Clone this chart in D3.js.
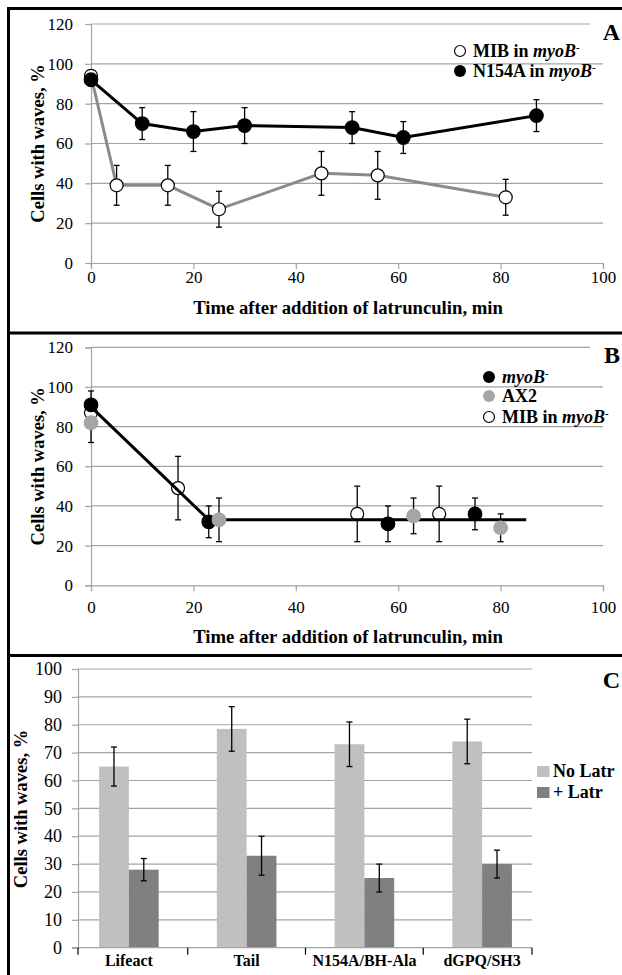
<!DOCTYPE html>
<html>
<head>
<meta charset="utf-8">
<script src="https://cdn.jsdelivr.net/npm/d3@7"></script>
<style>
  body { margin: 0; background: #fff; }
</style>
</head>
<body>
<div id="chart"></div>
<script>
// panel A: latrunculin time course, two strains
var timeA_MIB = [0, 5, 15, 25, 45, 56, 81];
var valA_MIB = [94, 39, 39, 27, 45, 44, 33];
var errA_MIB = [2, 10, 10, 9, 11, 12, 9];
var timeA_N154A = [0, 10, 20, 30, 51, 61, 87];
var valA_N154A = [92, 70, 66, 69, 68, 63, 74];
var errA_N154A = [2, 8, 10, 9, 8, 8, 8];

// panel B
var timeB_myoB = [0, 23, 58, 75];
var valB_myoB = [91, 32, 31, 36];
var errB_myoB = [7, 8, 9, 8];
var timeB_AX2 = [0, 25, 63, 80];
var valB_AX2 = [82, 33, 35, 29];
var errB_AX2 = [10, 11, 9, 7];
var timeB_MIB = [0, 17, 52, 68];
var valB_MIB = [87, 49, 36, 36];
var errB_MIB = [5, 16, 14, 14];
var fitB_time = [0, 23, 85];
var fitB_val = [90, 33, 33];

// panel C
var categoriesC = ["Lifeact", "Tail", "N154A/BH-Ala", "dGPQ/SH3"];
var seriesC = ["No Latr", "+ Latr"];
var noLatr = [65, 78.5, 73, 74];
var noLatrErr = [7, 8, 8, 8];
var plusLatr = [28, 33, 25, 30];
var plusLatrErr = [4, 7, 5, 5];

var ticksTime = [0, 20, 40, 60, 80, 100];
var ticksAB = [0, 20, 40, 60, 80, 100, 120];
var ticksC = [0, 10, 20, 30, 40, 50, 60, 70, 80, 90, 100];

var W = 622, H = 975;
var gridCol = "#a3a3a3";
var FONT = "'Liberation Serif'";

var svg = d3.select("#chart").append("svg").attr("width", W).attr("height", H);

function txt(g, x, y, size, bold) {
  return g.append("text").attr("x", x).attr("y", y)
    .style("font-family", FONT).attr("font-size", size)
    .attr("font-weight", bold ? "bold" : "normal").attr("fill", "#000");
}

function zip(t, v, e) {
  return t.map(function(d, i) { return {t: d, v: v[i], e: e ? e[i] : 0}; });
}

// draws grid, axes and titles for a time panel
function timePanel(top, bottom, label, labelPad, titleY) {
  var g = svg.append("g");
  var x = d3.scaleLinear().domain([0, 100]).range([91, 603]);
  var y = d3.scaleLinear().domain([0, 120]).range([bottom, top]);

  g.selectAll("line.grid").data(ticksAB.slice(1)).enter().append("line")
    .attr("x1", 91).attr("x2", function(d) { return d == 120 ? 590 : 603; })
    .attr("y1", function(d) { return y(d); }).attr("y2", function(d) { return y(d); })
    .attr("stroke", gridCol).attr("stroke-width", 1.2);

  var yAxis = d3.axisLeft(y).tickValues(ticksAB).tickSize(6).tickPadding(12);
  var xAxis = d3.axisBottom(x).tickValues(ticksTime).tickSize(6).tickPadding(labelPad);
  var ya = g.append("g").attr("transform", "translate(91,0)").call(yAxis);
  var xa = g.append("g").attr("transform", "translate(0," + bottom + ")").call(xAxis);
  [ya, xa].forEach(function(a) {
    a.attr("font-family", null).attr("font-size", null);
    a.selectAll("path, line").attr("stroke", gridCol).attr("stroke-width", 1.2);
    a.selectAll("text").style("font-family", FONT).attr("font-size", 17).attr("fill", "#000");
  });

  txt(g, 348, titleY, 18.7, true).attr("text-anchor", "middle")
    .text("Time after addition of latrunculin, min");
  txt(g, 0, 0, 18.5, true)
    .attr("transform", "translate(44," + ((top + bottom) / 2) + ") rotate(-90)")
    .attr("text-anchor", "middle").text("Cells with waves, %");
  txt(g, 620, top + 16, 24, true).attr("text-anchor", "end").text(label);
  return {g: g, x: x, y: y};
}

function errorBars(p, data) {
  var eb = p.g.append("g").selectAll("g").data(data.filter(function(d) { return d.e > 0; }))
    .enter().append("g").attr("stroke", "#000").attr("stroke-width", 1.3);
  eb.append("line")
    .attr("x1", function(d) { return p.x(d.t); }).attr("x2", function(d) { return p.x(d.t); })
    .attr("y1", function(d) { return p.y(d.v - d.e); }).attr("y2", function(d) { return p.y(d.v + d.e); });
  [-1, 1].forEach(function(s) {
    eb.append("line")
      .attr("x1", function(d) { return p.x(d.t) - 3; }).attr("x2", function(d) { return p.x(d.t) + 3; })
      .attr("y1", function(d) { return p.y(d.v + s * d.e); }).attr("y2", function(d) { return p.y(d.v + s * d.e); });
  });
}

function series(p, data, fill, stroke, r) {
  p.g.append("g").selectAll("circle").data(data).enter().append("circle")
    .attr("cx", function(d) { return p.x(d.t); })
    .attr("cy", function(d) { return p.y(d.v); })
    .attr("r", r).attr("fill", fill).attr("stroke", stroke).attr("stroke-width", 1.2);
}

function lineOf(p, data, col) {
  var ln = d3.line().x(function(d) { return p.x(d.t); }).y(function(d) { return p.y(d.v); });
  p.g.append("path").datum(data).attr("d", ln).attr("fill", "none")
    .attr("stroke", col).attr("stroke-width", 3);
}

function legendText(g, x, y, parts) {
  var t = txt(g, x, y, 18, true);
  parts.forEach(function(pt) {
    var s = t.append("tspan").text(pt.s);
    if (pt.i) s.attr("font-style", "italic");
    if (pt.sup) s.attr("font-size", 11).attr("baseline-shift", "super");
  });
}

// ---- panel A
var pA = timePanel(24, 263, "A", 2, 314);
var dMIB = zip(timeA_MIB, valA_MIB, errA_MIB);
var dN = zip(timeA_N154A, valA_N154A, errA_N154A);
errorBars(pA, dMIB);
errorBars(pA, dN);
lineOf(pA, dMIB, "#8a8a8a");
lineOf(pA, dN, "#000");
series(pA, dMIB, "#fff", "#000", 6.5);
series(pA, dN, "#000", "#000", 6.8);

pA.g.append("circle").attr("cx", 460).attr("cy", 51).attr("r", 5.5).attr("fill", "#fff").attr("stroke", "#000").attr("stroke-width", 1.2);
legendText(pA.g, 473, 57, [{s: "MIB in "}, {s: "myoB", i: 1}, {s: "-", sup: 1}]);
pA.g.append("circle").attr("cx", 460).attr("cy", 71).attr("r", 6).attr("fill", "#000");
legendText(pA.g, 473, 77, [{s: "N154A in "}, {s: "myoB", i: 1}, {s: "-", sup: 1}]);

// ---- panel B
var pB = timePanel(347.3, 585.3, "B", 10, 643);
var dBm = zip(timeB_myoB, valB_myoB, errB_myoB);
var dBa = zip(timeB_AX2, valB_AX2, errB_AX2);
var dBo = zip(timeB_MIB, valB_MIB, errB_MIB);
errorBars(pB, dBo);
errorBars(pB, dBm);
errorBars(pB, dBa);
series(pB, dBo, "#fff", "#000", 6.5);
lineOf(pB, zip(fitB_time, fitB_val), "#000");
series(pB, dBm, "#000", "#000", 6.8);
series(pB, dBa, "#a6a6a6", "#a6a6a6", 6.8);

pB.g.append("circle").attr("cx", 489).attr("cy", 377).attr("r", 6).attr("fill", "#000");
legendText(pB.g, 502, 383, [{s: "myoB", i: 1}, {s: "-", sup: 1}]);
pB.g.append("circle").attr("cx", 489).attr("cy", 396).attr("r", 6).attr("fill", "#a6a6a6");
legendText(pB.g, 502, 402, [{s: "AX2"}]);
pB.g.append("circle").attr("cx", 489).attr("cy", 417).attr("r", 5.5).attr("fill", "#fff").attr("stroke", "#000").attr("stroke-width", 1.2);
legendText(pB.g, 502, 423, [{s: "MIB in "}, {s: "myoB", i: 1}, {s: "-", sup: 1}]);

// ---- panel C
var gC = svg.append("g");
var axL = 78, axR = 532;
var x0 = d3.scaleBand().domain(categoriesC).range([70, 541]);
var x1 = d3.scaleBand().domain(seriesC).range([0, x0.bandwidth()]).paddingOuter(0.975);
var yC = d3.scaleLinear().domain([0, 100]).range([947.7, 669]);
var colC = d3.scaleOrdinal().domain(seriesC).range(["#c0c0c0", "#808080"]);

gC.selectAll("line.grid").data(ticksC.slice(1)).enter().append("line")
  .attr("x1", axL).attr("x2", axR)
  .attr("y1", function(d) { return yC(d); }).attr("y2", function(d) { return yC(d); })
  .attr("stroke", gridCol).attr("stroke-width", 1.2);

var barsC = [];
categoriesC.forEach(function(c, i) {
  barsC.push({c: c, s: seriesC[0], v: noLatr[i], e: noLatrErr[i]});
  barsC.push({c: c, s: seriesC[1], v: plusLatr[i], e: plusLatrErr[i]});
});

gC.selectAll("rect.bar").data(barsC).enter().append("rect")
  .attr("x", function(d) { return x0(d.c) + x1(d.s); })
  .attr("width", x1.bandwidth())
  .attr("y", function(d) { return yC(d.v); })
  .attr("height", function(d) { return yC(0) - yC(d.v); })
  .attr("fill", function(d) { return colC(d.s); });

var ebC = gC.selectAll("g.eb").data(barsC).enter().append("g")
  .attr("stroke", "#000").attr("stroke-width", 1.3);
function cx(d) { return x0(d.c) + x1(d.s) + x1.bandwidth() / 2; }
ebC.append("line").attr("x1", cx).attr("x2", cx)
  .attr("y1", function(d) { return yC(d.v - d.e); }).attr("y2", function(d) { return yC(d.v + d.e); });
[-1, 1].forEach(function(s) {
  ebC.append("line")
    .attr("x1", function(d) { return cx(d) - 3; }).attr("x2", function(d) { return cx(d) + 3; })
    .attr("y1", function(d) { return yC(d.v + s * d.e); }).attr("y2", function(d) { return yC(d.v + s * d.e); });
});

var yaC = gC.append("g").attr("transform", "translate(" + axL + ",0)")
  .call(d3.axisLeft(yC).tickValues(ticksC).tickSize(6).tickPadding(10));
yaC.attr("font-family", null).attr("font-size", null);
yaC.selectAll("text").style("font-family", FONT).attr("font-size", 18).attr("fill", "#000");
yaC.selectAll("path, line").attr("stroke", gridCol).attr("stroke-width", 1.2);

// category axis: line, boundary ticks and labels
gC.append("line").attr("x1", axL - 6).attr("x2", axR).attr("y1", yC(0)).attr("y2", yC(0))
  .attr("stroke", gridCol).attr("stroke-width", 1.2);
var bounds = [axL].concat(categoriesC.slice(1).map(function(c) { return x0(c); })).concat([axR]);
gC.selectAll("line.ct").data(bounds).enter().append("line")
  .attr("x1", function(d) { return d; }).attr("x2", function(d) { return d; })
  .attr("y1", yC(0)).attr("y2", yC(0) + 7)
  .attr("stroke", "#000").attr("stroke-width", 1.2);
categoriesC.forEach(function(c) {
  txt(gC, x0(c) + x0.bandwidth() / 2, 966, 16, true).attr("text-anchor", "middle").text(c);
});

txt(gC, 0, 0, 18.5, true)
  .attr("transform", "translate(27,809) rotate(-90)")
  .attr("text-anchor", "middle").text("Cells with waves, %");
txt(gC, 620, 688, 24, true).attr("text-anchor", "end").text("C");

seriesC.forEach(function(s, i) {
  gC.append("rect").attr("x", 537).attr("y", 766 + i * 21).attr("width", 12.5).attr("height", 11)
    .attr("fill", colC(s));
  txt(gC, 553, 777 + i * 21, 18, true).text(s);
});

// panel frame: left and top rules plus separators
var frame = [[8.5, 7, 8.5, H], [7, 8.5, W, 8.5], [7, 333, W, 333], [7, 655.5, W, 655.5]];
svg.append("g").selectAll("line").data(frame).enter().append("line")
  .attr("x1", function(d) { return d[0]; }).attr("y1", function(d) { return d[1]; })
  .attr("x2", function(d) { return d[2]; }).attr("y2", function(d) { return d[3]; })
  .attr("stroke", "#000").attr("stroke-width", 3);
</script>
</body>
</html>
